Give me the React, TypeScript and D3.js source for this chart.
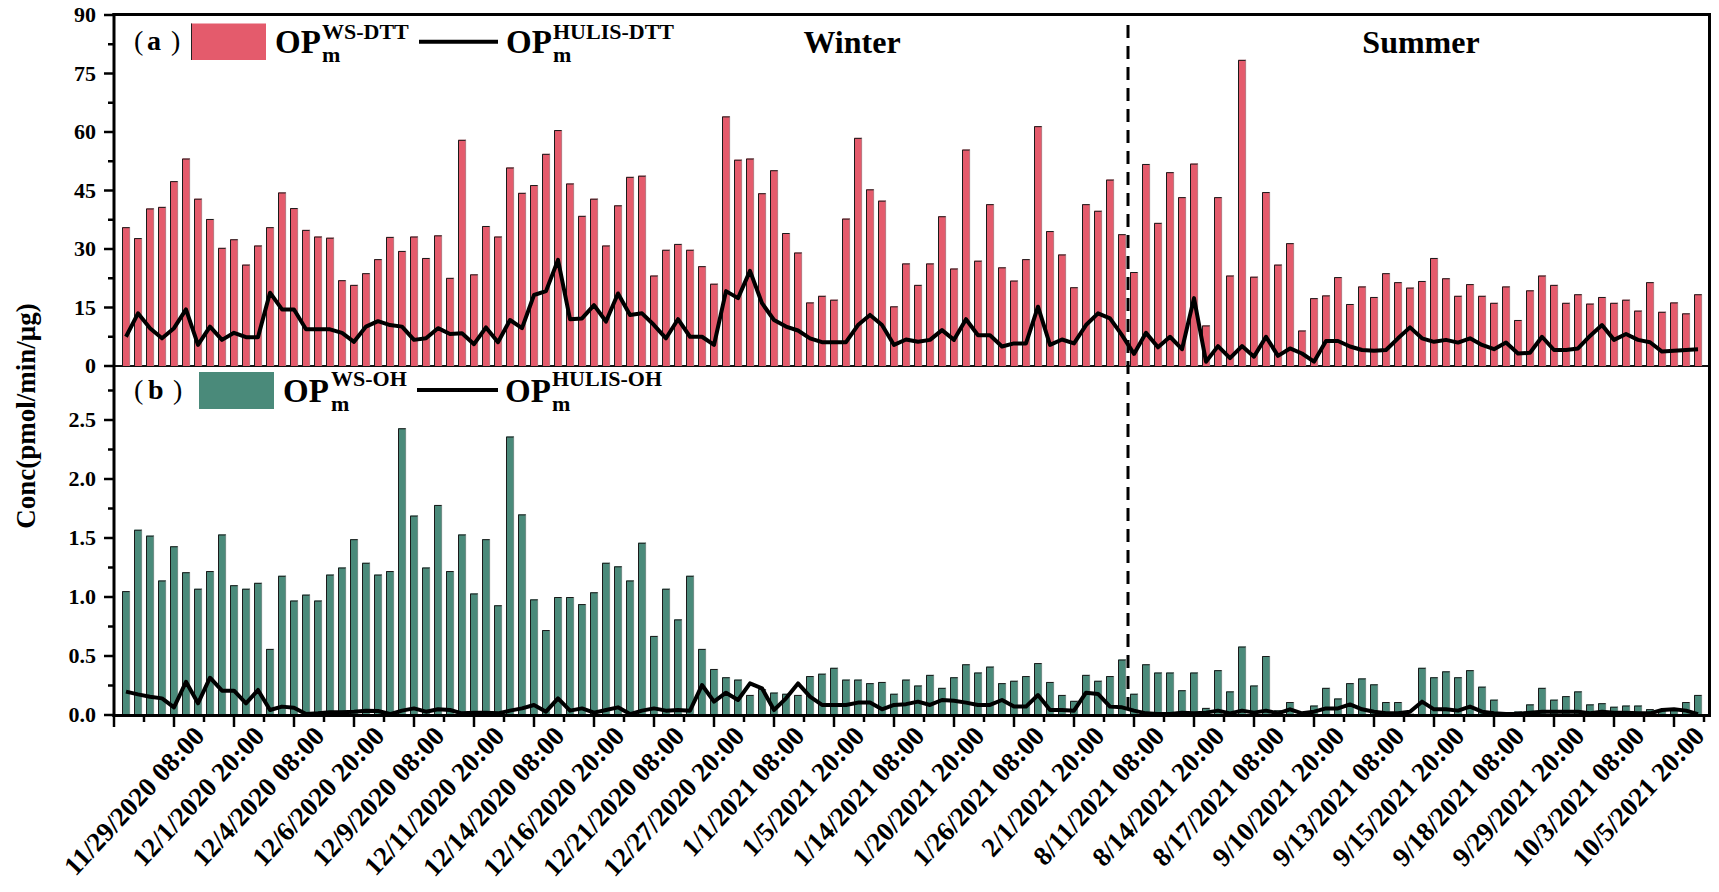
import React from "react";
import * as d3 from "d3";

const xLabels = [
  "11/29/2020 08:00", "12/1/2020 20:00", "12/4/2020 08:00", "12/6/2020 20:00",
  "12/9/2020 08:00", "12/11/2020 20:00", "12/14/2020 08:00", "12/16/2020 20:00",
  "12/21/2020 08:00", "12/27/2020 20:00", "1/1/2021 08:00", "1/5/2021 20:00",
  "1/14/2021 08:00", "1/20/2021 20:00", "1/26/2021 08:00", "2/1/2021 20:00",
  "8/11/2021 08:00", "8/14/2021 20:00", "8/17/2021 08:00", "9/10/2021 20:00",
  "9/13/2021 08:00", "9/15/2021 20:00", "9/18/2021 08:00", "9/29/2021 20:00",
  "10/3/2021 08:00", "10/5/2021 20:00",
];

// (a) OPm WS-DTT bars
const wsDTT = [
  35.6, 32.8, 40.4, 40.8, 47.4, 53.2, 42.9, 37.7, 30.3, 32.5, 26.0, 30.9, 35.6, 44.5, 40.5, 34.9, 33.2,
  32.9, 22.0, 20.8, 23.8, 27.4, 33.1, 29.5, 33.2, 27.7, 33.5, 22.6, 58.0, 23.5, 35.9, 33.2, 50.9,
  44.4, 46.4, 54.4, 60.5, 46.8, 38.5, 42.9, 30.9, 41.2, 48.5, 48.8, 23.2, 29.8, 31.3, 29.8, 25.6,
  21.1, 64.0, 52.9, 53.2, 44.3, 50.2, 34.1, 29.1, 16.3, 18.0, 17.0, 37.8, 58.5, 45.3, 42.4, 15.3, 26.3,
  20.8, 26.3, 38.4, 25.0, 55.5, 27.0, 41.5, 25.3, 21.9, 27.4, 61.5, 34.6, 28.6, 20.2, 41.5, 39.8,
  47.8, 33.8, 24.1, 51.8, 36.7, 49.7, 43.3, 51.9, 10.4, 43.3, 23.2, 78.5, 22.9, 44.6, 26.0, 31.5, 9.1,
  17.4, 18.1, 22.8, 15.9, 20.4, 17.7, 23.8, 21.5, 20.1, 21.8, 27.7, 22.5, 18.0, 21.0, 18.0, 16.2,
  20.4, 11.8, 19.4, 23.2, 20.8, 16.2, 18.4, 16.0, 17.7, 16.2, 17.0, 14.2, 21.5, 13.9, 16.3, 13.5, 18.4,
];

// (a) OPm HULIS-DTT line
const hulisDTT = [
  7.5, 13.5, 9.7, 7.1, 9.7, 14.5, 5.4, 10.1, 6.7, 8.5, 7.4, 7.4, 18.8, 14.5, 14.5, 9.4, 9.4,
  9.4, 8.5, 6.2, 10.1, 11.5, 10.5, 10.1, 6.7, 7.1, 9.7, 8.2, 8.4, 5.6, 9.9, 6.1, 11.8,
  9.7, 18.2, 19.2, 27.2, 12.0, 12.2, 15.6, 11.4, 18.6, 13.1, 13.5, 10.5, 7.1, 12.0, 7.5, 7.5,
  5.4, 19.2, 17.4, 24.4, 16.1, 11.8, 10.1, 9.1, 7.1, 6.1, 6.1, 6.1, 10.5, 13.1, 10.5, 5.4, 6.8,
  6.2, 6.7, 9.2, 6.7, 12.0, 7.9, 7.9, 5.0, 5.8, 5.8, 15.2, 5.4, 6.8, 5.8, 10.5, 13.5,
  12.2, 7.9, 3.1, 8.5, 4.8, 7.5, 4.3, 17.4, 1.1, 5.1, 2.0, 5.1, 2.4, 7.5, 2.6, 4.5, 3.2,
  1.1, 6.4, 6.4, 5.0, 4.1, 3.9, 4.1, 7.1, 9.9, 7.1, 6.2, 6.7, 6.0, 7.1, 5.4, 4.3,
  6.0, 3.2, 3.4, 7.5, 4.1, 4.1, 4.5, 7.7, 10.5, 6.7, 8.2, 6.7, 6.1, 3.7, 3.9, 4.1, 4.3,
];

// (b) OPm WS-OH bars
const wsOH = [
  1.05, 1.57, 1.52, 1.14, 1.43, 1.21, 1.07, 1.22, 1.53, 1.10, 1.07, 1.12, 0.56, 1.18, 0.97, 1.02, 0.97,
  1.19, 1.25, 1.49, 1.29, 1.19, 1.22, 2.43, 1.69, 1.25, 1.78, 1.22, 1.53, 1.03, 1.49, 0.93, 2.36,
  1.70, 0.98, 0.72, 1.00, 1.00, 0.94, 1.04, 1.29, 1.26, 1.14, 1.46, 0.67, 1.07, 0.81, 1.18,
  0.56, 0.39, 0.32, 0.30, 0.17, 0.22, 0.19, 0.18, 0.17, 0.33, 0.35, 0.40, 0.30, 0.30, 0.27, 0.28, 0.18, 0.30,
  0.25, 0.34, 0.23, 0.32, 0.43, 0.36, 0.41, 0.27, 0.29, 0.33, 0.44, 0.28, 0.17, 0.12, 0.34, 0.29,
  0.33, 0.47, 0.18, 0.43, 0.36, 0.36, 0.21, 0.36, 0.06, 0.38, 0.20, 0.58, 0.25, 0.50, 0.04, 0.11, 0.01,
  0.08, 0.23, 0.14, 0.27, 0.31, 0.26, 0.11, 0.11, 0.01, 0.40, 0.32, 0.37, 0.32, 0.38, 0.24, 0.13,
  0.01, 0.03, 0.09, 0.23, 0.13, 0.16, 0.20, 0.09, 0.10, 0.07, 0.08, 0.08, 0.05, 0.05, 0.05, 0.11, 0.17,
];

// (b) OPm HULIS-OH line
const hulisOH = [
  0.198, 0.175, 0.155, 0.141, 0.065, 0.282, 0.099, 0.316, 0.206, 0.206, 0.099, 0.212, 0.042, 0.071, 0.062, 0.008, 0.014,
  0.023, 0.023, 0.028, 0.037, 0.034, 0.008, 0.037, 0.056, 0.028, 0.048, 0.042, 0.014, 0.020, 0.020, 0.014, 0.037,
  0.056, 0.085, 0.028, 0.141, 0.037, 0.056, 0.020, 0.042, 0.065, 0.008, 0.037, 0.056, 0.037, 0.042, 0.037,
  0.254, 0.113, 0.189, 0.127, 0.268, 0.226, 0.042, 0.141, 0.268, 0.155, 0.085, 0.085, 0.085, 0.105, 0.105, 0.048, 0.085, 0.092,
  0.113, 0.085, 0.127, 0.121, 0.105, 0.085, 0.085, 0.127, 0.071, 0.071, 0.169, 0.042, 0.042, 0.037, 0.189, 0.178,
  0.071, 0.065, 0.037, 0.014, 0.008, 0.008, 0.020, 0.014, 0.020, 0.037, 0.014, 0.037, 0.020, 0.037, 0.014, 0.048, 0.014,
  0.028, 0.056, 0.056, 0.090, 0.048, 0.028, 0.014, 0.014, 0.028, 0.113, 0.048, 0.048, 0.037, 0.071, 0.028, 0.014,
  0.008, 0.008, 0.020, 0.028, 0.028, 0.028, 0.028, 0.014, 0.028, 0.020, 0.020, 0.014, 0.014, 0.042, 0.048, 0.037, 0.008,
];

const aTicks = [0, 15, 30, 45, 60, 75, 90];
const bTicks = [0, 0.5, 1.0, 1.5, 2.0, 2.5];

const FONT = "'Liberation Serif', 'Times New Roman', serif";
const PINK = "#E45B6C";
const TEAL = "#4A8A7A";

export default function App() {
  const W = 1719, H = 892;
  const x = d3.scaleLinear().domain([-1, 132]).range([114, 1710]);
  const ya = d3.scaleLinear().domain([0, 90]).range([366, 15]);
  const yb = d3.scaleLinear().domain([0, 2.5]).range([715, 420]);
  const bw = 8;
  const split = 83.5;

  const lineA = d3.line<number>().x((_, i) => x(i)).y((d) => ya(d)).curve(d3.curveLinear);
  const lineB = d3.line<number>().x((_, i) => x(i)).y((d) => yb(d)).curve(d3.curveLinear);

  const xTicks = d3.range(-1, 132, 2.5);
  const aMinor = d3.range(7.5, 90, 15);
  const bMinor = d3.range(0.25, 2.96, 0.5);

  const bars = (vals: number[], y: d3.ScaleLinear<number, number>, color: string) =>
    vals.map((v, i) => {
      const x0 = x(i) - bw / 2;
      const yt = y(v);
      const yb0 = y(0);
      return (
        <g key={i}>
          <rect x={x0} y={yt} width={bw} height={yb0 - yt} fill={color} />
          <path d={`M${x0 + 0.5},${yb0} V${yt + 0.5} H${x0 + bw}`} fill="none" stroke="#1a1a1a" strokeWidth={1} />
          <line x1={x0 + bw - 0.3} x2={x0 + bw - 0.3} y1={yt} y2={yb0} stroke="#999" strokeWidth={0.6} />
        </g>
      );
    });

  return (
    <svg width={W} height={H} style={{ position: "absolute", left: 0, top: 0, background: "#fff" }} fontFamily={FONT}>
      <rect x={0} y={0} width={W} height={H} fill="#fff" />

      {/* panel separation line */}
      <line x1={114} x2={1710} y1={366} y2={366} stroke="#111" strokeWidth={2} />

      {/* bars */}
      <g>{bars(wsDTT, ya, PINK)}</g>
      <g>{bars(wsOH, yb, TEAL)}</g>

      {/* lines */}
      <path d={lineA(hulisDTT) || ""} fill="none" stroke="#000" strokeWidth={4} strokeLinejoin="round" />
      <path d={lineB(hulisOH) || ""} fill="none" stroke="#000" strokeWidth={4} strokeLinejoin="round" />

      {/* dashed split */}
      <line x1={x(split)} x2={x(split)} y1={25} y2={713} stroke="#000" strokeWidth={3} strokeDasharray="13 8" />

      {/* frame */}
      <line x1={114} x2={114} y1={13} y2={717} stroke="#000" strokeWidth={3} />
      <line x1={1709.5} x2={1709.5} y1={13} y2={717} stroke="#000" strokeWidth={3} />
      <line x1={112.5} x2={1711} y1={14.5} y2={14.5} stroke="#000" strokeWidth={3} />
      <line x1={112.5} x2={1711} y1={715.5} y2={715.5} stroke="#000" strokeWidth={3} />

      {/* y ticks panel a */}
      {aTicks.map((t) => (
        <g key={"a" + t}>
          <line x1={104} x2={114} y1={ya(t)} y2={ya(t)} stroke="#000" strokeWidth={2.5} />
          <text x={96} y={ya(t) + 7} textAnchor="end" fontSize={22} fontWeight="bold">{t}</text>
        </g>
      ))}
      {aMinor.map((t) => (
        <line key={"am" + t} x1={108} x2={114} y1={ya(t)} y2={ya(t)} stroke="#000" strokeWidth={2.5} />
      ))}
      {/* y ticks panel b */}
      {bTicks.map((t) => (
        <g key={"b" + t}>
          <line x1={104} x2={114} y1={yb(t)} y2={yb(t)} stroke="#000" strokeWidth={2.5} />
          <text x={96} y={yb(t) + 7} textAnchor="end" fontSize={22} fontWeight="bold">{t.toFixed(1)}</text>
        </g>
      ))}
      {bMinor.map((t) => (
        <line key={"bm" + t} x1={108} x2={114} y1={yb(t)} y2={yb(t)} stroke="#000" strokeWidth={2.5} />
      ))}

      {/* x ticks */}
      {xTicks.map((t) => {
        const major = Math.abs(((t + 1) % 5)) < 1e-6;
        return (
          <line key={"x" + t} x1={x(t)} x2={x(t)} y1={715} y2={major ? 727 : 722} stroke="#000" strokeWidth={2.5} />
        );
      })}
      {xLabels.map((lab, k) => {
        const px = x(4 + 5 * k) + 32;
        const py = 737;
        return (
          <text key={lab} x={px} y={py} textAnchor="end" fontSize={27} fontWeight="bold"
            transform={`rotate(-47 ${px} ${py})`}>{lab}</text>
        );
      })}

      {/* y axis title */}
      <text x={0} y={0} transform="translate(35 416) rotate(-90)" textAnchor="middle" fontSize={27} fontWeight="bold">
        Conc(pmol/min/μg)
      </text>

      {/* season labels */}
      <text x={852} y={53} textAnchor="middle" fontSize={32} fontWeight="bold">Winter</text>
      <text x={1421} y={53} textAnchor="middle" fontSize={32} fontWeight="bold">Summer</text>

      {/* legend a */}
      <text y={50} fontSize={28}>
        <tspan x={134}>(</tspan>
        <tspan x={147} fontWeight="bold">a</tspan>
        <tspan x={171}>)</tspan>
      </text>
      <rect x={191} y={23.5} width={75} height={36.5} fill={PINK} />
      <line x1={191.5} x2={191.5} y1={23.5} y2={60} stroke="#222" strokeWidth={1} />
      <text fontWeight="bold">
        <tspan x={275} y={52.7} fontSize={33}>OP</tspan>
        <tspan x={322} y={39} fontSize={22}>WS-DTT</tspan>
        <tspan x={322} y={62} fontSize={22}>m</tspan>
      </text>
      <line x1={419} x2={498} y1={41.7} y2={41.7} stroke="#000" strokeWidth={4} />
      <text fontWeight="bold">
        <tspan x={506} y={52.7} fontSize={33}>OP</tspan>
        <tspan x={553} y={39} fontSize={22}>HULIS-DTT</tspan>
        <tspan x={553} y={62} fontSize={22}>m</tspan>
      </text>

      {/* legend b */}
      <text y={399} fontSize={28}>
        <tspan x={134}>(</tspan>
        <tspan x={148} fontWeight="bold">b</tspan>
        <tspan x={173}>)</tspan>
      </text>
      <rect x={199} y={372} width={75} height={37} fill={TEAL} />
      <text fontWeight="bold">
        <tspan x={283} y={401.7} fontSize={33}>OP</tspan>
        <tspan x={331} y={386} fontSize={22}>WS-OH</tspan>
        <tspan x={331} y={411} fontSize={22}>m</tspan>
      </text>
      <line x1={417} x2={498} y1={390} y2={390} stroke="#000" strokeWidth={4} />
      <text fontWeight="bold">
        <tspan x={505} y={401.7} fontSize={33}>OP</tspan>
        <tspan x={552} y={386} fontSize={22}>HULIS-OH</tspan>
        <tspan x={552} y={411} fontSize={22}>m</tspan>
      </text>
    </svg>
  );
}
